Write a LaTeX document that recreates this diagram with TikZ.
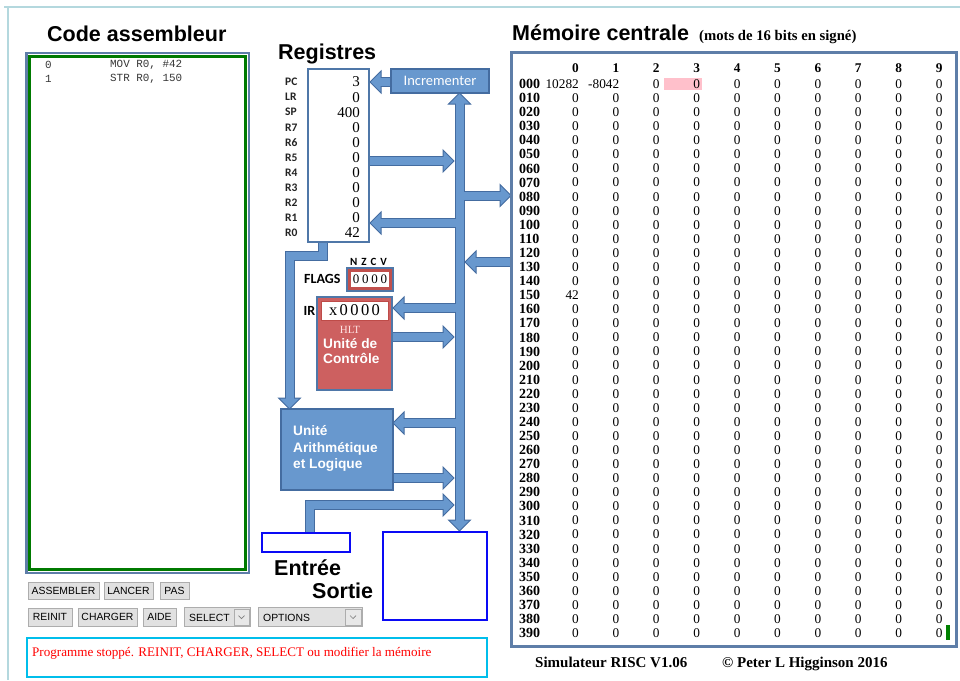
\documentclass[tikz,border=0pt]{standalone}
\usepackage{fontspec}
\setmainfont{Liberation Serif}
\setsansfont{Liberation Sans}
\setmonofont{Liberation Mono}
\newfontfamily\calib{Carlito}
\newcommand\fsz[1]{\fontsize{#1}{#1}\selectfont}
\definecolor{busfill}{RGB}{104,152,206}
\definecolor{busline}{RGB}{68,108,160}
\definecolor{regline}{RGB}{79,119,168}
\definecolor{cured}{RGB}{205,96,96}
\definecolor{flagred}{RGB}{192,80,77}
\definecolor{irred}{RGB}{190,75,72}
\definecolor{memframe}{RGB}{94,126,168}
\definecolor{codegreen}{RGB}{0,122,0}
\definecolor{markgreen}{RGB}{0,128,0}
\definecolor{iob}{RGB}{10,10,245}
\definecolor{statcyan}{RGB}{0,190,235}
\definecolor{frameteal}{RGB}{180,216,222}
\definecolor{btnfill}{RGB}{225,225,225}
\definecolor{ddfill}{RGB}{232,232,232}
\definecolor{btnline}{RGB}{173,173,173}
\definecolor{hlpink}{RGB}{255,192,203}
\definecolor{lblgray}{RGB}{35,35,35}
\definecolor{codegray}{RGB}{55,55,55}
\definecolor{hltcol}{RGB}{255,225,225}
\newcommand\headR[2]{\draw[headst] ({#1-11},{#2-11}) -- (#1,#2) -- ({#1-11},{#2+11}) -- cycle;}
\newcommand\headL[2]{\draw[headst] ({#1+11},{#2-11}) -- (#1,#2) -- ({#1+11},{#2+11}) -- cycle;}
\newcommand\headU[2]{\draw[headst] ({#1-11},{#2+11}) -- (#1,#2) -- ({#1+11},{#2+11}) -- cycle;}
\newcommand\headD[2]{\draw[headst] ({#1-11},{#2-11}) -- (#1,#2) -- ({#1+11},{#2-11}) -- cycle;}
\newcommand\allshafts[1]{%
 \draw[#1] (459.5,103) -- (459.5,521);
 \draw[#1] (392,82) -- (380,82);
 \draw[#1] (369,161) -- (444,161);
 \draw[#1] (459.5,195.5) -- (501,195.5);
 \draw[#1] (459.5,223) -- (380,223);
 \draw[#1] (512,262) -- (475,262);
 \draw[#1] (459.5,308) -- (403,308);
 \draw[#1] (392,337) -- (444,337);
 \draw[#1] (459.5,423) -- (403,423);
 \draw[#1] (392,478) -- (444,478);
 \draw[#1] (310,534) -- (310,505) -- (444,505);
 \draw[#1] (322.5,241) -- (322.5,256) -- (289.5,256) -- (289.5,399);
}
\newcommand\memcell[2]{\ifnum#1=0 \ifnum#2=0 10282\else\ifnum#2=1 -8042\else 0\fi\fi\else\ifnum#1=15 \ifnum#2=0 42\else 0\fi\else 0\fi\fi}
\begin{document}
\begin{tikzpicture}[x=1pt,y=-1pt,
  shaftB/.style={draw=busline,line width=10pt},
  shaftF/.style={draw=busfill,line width=8pt},
  headst/.style={fill=busfill,draw=busline,line width=1pt,line join=miter},
  title/.style={font=\sffamily\bfseries\fsz{21.5},anchor=base west,inner sep=0,text=black},
  reglbl/.style={font=\calib\bfseries\fsz{11.5},anchor=west,inner sep=0,text=lblgray},
  regval/.style={font=\fsz{15},anchor=east,inner sep=0,text=black},
  whitelbl/.style={font=\sffamily\bfseries\fsz{13.7},anchor=base west,inner sep=0,text=white},
  boxn/.style={inner sep=0,outer sep=0},
  btn/.style={draw=btnline,fill=btnfill,line width=0.8pt,inner sep=0,minimum height=17,font=\sffamily\fsz{10.4},text=black},
  memhead/.style={font=\bfseries\fsz{13.3},anchor=east,inner sep=0},
  memlbl/.style={font=\bfseries\fsz{14},anchor=west,inner sep=0},
  memval/.style={font=\fsz{13.3},anchor=east,inner sep=0},
  codetxt/.style={font=\ttfamily\fsz{10.9},anchor=west,inner sep=0,text=codegray}
]
\useasboundingbox (0,0) rectangle (960,680);
\fill[white] (0,0) rectangle (960,680);
% outer frame
\draw[frameteal,line width=1.5pt] (4,7) -- (960,7);
\draw[frameteal,line width=1.5pt] (8,7) -- (8,680);

% code area
\node[boxn,draw=memframe,line width=2.5pt,minimum width=222.5,minimum height=520] (codeout) at (137.75,313) {};
\node[boxn,draw=codegreen,line width=3pt,fill=white,minimum width=216,minimum height=513] (code) at (137.5,313) {};
\node[title] (tcode) at (47,41) {Code assembleur};
\node[codetxt] (c0n) at (45,65) {0};
\node[codetxt] (c0i) at (110,65) {MOV R0, \#42};
\node[codetxt] (c1n) at (45,79) {1};
\node[codetxt] (c1i) at (110,79) {STR R0, 150};

% bus (block arrows)
\allshafts{shaftB}
\headU{459.5}{93}
\headD{459.5}{531}
\headL{370}{82}
\headR{454}{161}
\headR{511}{195.5}
\headL{370}{223}
\headL{465}{262}
\headL{393}{308}
\headR{454}{337}
\headL{393}{423}
\headR{454}{478}
\headR{454}{505}
\headD{289.5}{409}
\allshafts{shaftF}

% registers
\node[title] (treg) at (278,59) {Registres};
\node[boxn,draw=regline,line width=1.5pt,fill=white,minimum width=61,minimum height=173] (reg) at (338.5,155.5) {};
\foreach \lb/\vl [count=\k from 0] in {PC/3,LR/0,SP/400,R7/0,R6/0,R5/0,R4/0,R3/0,R2/0,R1/0,R0/42} {
  \node[reglbl] (l\lb) at (285,{82+15.1*\k}) {\lb};
  \node[regval] (v\lb) at (360,{82+15.1*\k}) {\vl};
}
\node[boxn,draw=busline,line width=1.5pt,fill=busfill,minimum width=98,minimum height=24,text=white,font=\calib\fsz{14.5}] (inc) at (440,81) {Incrementer};

% flags
\node[font=\calib\bfseries\fsz{11},inner sep=0,text=black] (nzcv) at (368.5,262) {N\hspace{4pt}Z\hspace{4pt}C\hspace{4pt}V};
\node[font=\calib\bfseries\fsz{14},anchor=west,inner sep=0,text=black] (tflags) at (304,278.5) {FLAGS};
\node[boxn,draw=regline,line width=1.2pt,fill=flagred,minimum width=46,minimum height=23] (flagsout) at (370,279.5) {};
\node[boxn,fill=white,minimum width=38,minimum height=15,font=\fsz{13}] (flags) at (370,279.5) {0\hspace{2.7pt}0\hspace{2.7pt}0\hspace{2.7pt}0};

% control unit
\node[font=\calib\bfseries\fsz{14},anchor=west,inner sep=0,text=black] (tir) at (303.5,311) {IR};
\node[boxn,draw=regline,line width=1.5pt,fill=cured,minimum width=75,minimum height=93] (cu) at (354.5,343.5) {};
\node[boxn,draw=irred,line width=0.8pt,fill=white,minimum width=67,minimum height=19,font=\fsz{16.5}] (ir) at (354.5,310.5) {x\hspace{2.4pt}0\hspace{2.4pt}0\hspace{2.4pt}0\hspace{2.4pt}0};
\node[font=\fsz{11},inner sep=0,text=hltcol] (hlt) at (350,330) {HLT};
\node[whitelbl] (cu1) at (323,348) {Unité de};
\node[whitelbl] (cu2) at (323,363) {Contrôle};

% ALU
\node[boxn,draw=busline,line width=1.5pt,fill=busfill,minimum width=112,minimum height=81] (alu) at (337,449.5) {};
\node[whitelbl] (alu1) at (293,435) {Unité};
\node[whitelbl] (alu2) at (293,452) {Arithmétique};
\node[whitelbl] (alu3) at (293,468) {et Logique};

% I/O
\node[boxn,draw=iob,line width=2.2pt,fill=white,minimum width=88,minimum height=19] (inp) at (306,542.5) {};
\node[boxn,draw=iob,line width=2.2pt,fill=white,minimum width=104,minimum height=88] (outp) at (435,576) {};
\node[title] (tin) at (274,575) {Entrée};
\node[title] (tout) at (312,598) {Sortie};

% buttons
\node[btn,minimum width=71] (bAsm) at (63.5,590.5) {ASSEMBLER};
\node[btn,minimum width=49] (bLan) at (128.5,590.5) {LANCER};
\node[btn,minimum width=29] (bPas) at (174.5,590.5) {PAS};
\node[btn,minimum width=44,minimum height=18] (bRei) at (50,617) {REINIT};
\node[btn,minimum width=59,minimum height=18] (bCha) at (107.5,617) {CHARGER};
\node[btn,minimum width=33,minimum height=18] (bAid) at (159.5,617) {AIDE};
\node[btn,minimum width=66,minimum height=19] (sSel) at (217,617) {};
\node[font=\sffamily\fsz{10.4},anchor=west,inner sep=0] (tSel) at (189,617.5) {SELECT};
\node[boxn,draw=btnline,line width=0.6pt,fill=ddfill,minimum width=15,minimum height=16] (dSel) at (241.5,617) {};
\draw[gray,line width=0.7pt] (238.5,615.5) -- (241.5,618.5) -- (244.5,615.5);
\node[btn,minimum width=104,minimum height=19] (sOpt) at (310,617) {};
\node[font=\sffamily\fsz{10.4},anchor=west,inner sep=0] (tOpt) at (263,617.5) {OPTIONS};
\node[boxn,draw=btnline,line width=0.6pt,fill=ddfill,minimum width=16,minimum height=16] (dOpt) at (353,617) {};
\draw[gray,line width=0.7pt] (350,615.5) -- (353,618.5) -- (356,615.5);

% status
\node[boxn,draw=statcyan,line width=2.5pt,fill=white,minimum width=460,minimum height=39] (stat) at (257,657.5) {};
\node[anchor=base west,inner sep=0,text=red,font=\fsz{13.1}] (msg) at (32,656.5) {Programme stoppé. REINIT, CHARGER, SELECT ou modifier la mémoire};

% memory
\node[title] (tmem) at (512,40) {Mémoire centrale};
\node[anchor=base west,inner sep=0,font=\bfseries\fsz{14.7}] (tmem2) at (699,40) {(mots de 16 bits en signé)};
\node[boxn,draw=memframe,line width=3pt,fill=white,minimum width=445,minimum height=594] (mem) at (734,349.5) {};
\fill[hlpink] (664,78) rectangle (702,90);
\fill[markgreen] (946,625) rectangle (950,640);
\foreach \ci in {0,...,9} {
  \node[memhead] (h\ci) at ({579+40.4*\ci},68) {\ci};
}
\foreach \ri in {0,...,39} {
  \pgfmathsetmacro\yy{84+14.08*\ri}
  \node[memlbl] (row\ri) at (519,\yy) {\ifnum\ri<10 0\ri0\else\ri0\fi};
  \foreach \ci in {0,...,9} {
    \node[memval] (m\ri-\ci) at ({579+40.4*\ci},\yy) {\memcell{\ri}{\ci}};
  }
}

% footer
\node[anchor=base west,inner sep=0,font=\bfseries\fsz{15}] (foot1) at (535,667) {Simulateur RISC V1.06};
\node[anchor=base west,inner sep=0,font=\bfseries\fsz{15}] (foot2) at (722,667) {© Peter L Higginson 2016};
\end{tikzpicture}
\end{document}
